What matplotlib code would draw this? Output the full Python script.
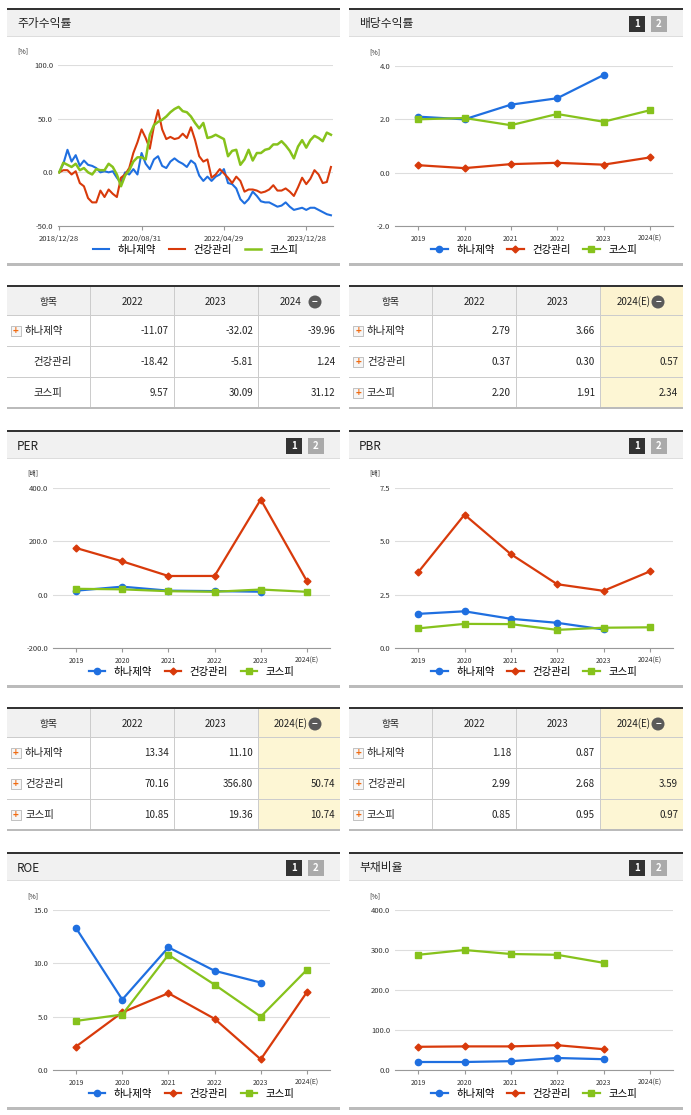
import matplotlib
matplotlib.use("Agg")
import matplotlib.pyplot as plt
from matplotlib.patches import Rectangle, Ellipse

plt.rcParams['font.family'] = ['Noto Sans CJK KR', 'DejaVu Sans']

W, H = 691, 1115
BLUE, RED, GREEN = '#1f6fe0', '#d83a0b', '#86c21c'
NAMES = ['하나제약', '건강관리', '코스피']
YEARS = ['2019', '2020', '2021', '2022', '2023', '2024(E)']

# stock return, monthly from 2018/12/28
ret_hana = [0, 8, 21, 10, 16, 6, 11, 7, 6, 4, 0, 1, 0, 1, -5, -10, 0, -2, 3, -2, 18,
            8, 3, 12, 15, 6, 4, 10, 13, 10, 8, 5, 11, 8, -3, -8, -4, -8, -4, -2, 3,
            -10, -11, -15, -25, -29, -25, -18, -22, -27, -28, -28, -30, -32, -31, -28,
            -32, -35, -34, -33, -35, -33, -33, -35, -37, -39, -40]
ret_health = [0, 2, 2, -2, 1, -10, -13, -24, -28, -28, -17, -23, -16, -20, -23, -5, -2,
              4, 18, 28, 40, 32, 22, 43, 58, 40, 31, 33, 31, 32, 36, 32, 42, 30, 15, 10,
              12, -5, -2, 3, -1, -5, -10, -4, -8, -18, -16, -16, -17, -19, -18, -16, -12,
              -17, -17, -15, -18, -22, -14, -5, -11, -6, 2, -2, -10, -9, 5]
ret_kospi = [0, 9, 7, 5, 8, 2, 4, 0, -2, 3, 2, 2, 8, 5, -2, -13, -3, 2, 10, 14, 14, 12,
             35, 44, 47, 49, 52, 56, 59, 61, 57, 56, 52, 46, 41, 46, 32, 33, 35, 33, 31,
             15, 20, 21, 7, 12, 21, 11, 18, 18, 21, 22, 26, 26, 29, 25, 20, 13, 24, 30,
             23, 30, 34, 32, 29, 37, 35]
ret_ticks = [0, 20, 40, 60]
ret_ticklabels = ['2018/12/28', '2020/08/31', '2022/04/29', '2023/12/28']

div_hana = [2.1, 2.0, 2.55, 2.79, 3.66, None]
div_health = [0.28, 0.17, 0.32, 0.37, 0.30, 0.57]
div_kospi = [2.0, 2.05, 1.78, 2.20, 1.91, 2.34]

per_hana = [15, 30, 15, 13.34, 11.10, None]
per_health = [175, 125, 70, 70.16, 356.80, 50.74]
per_kospi = [22, 20, 13, 10.85, 19.36, 10.74]

pbr_hana = [1.6, 1.72, 1.37, 1.18, 0.87, None]
pbr_health = [3.55, 6.25, 4.4, 2.99, 2.68, 3.59]
pbr_kospi = [0.92, 1.13, 1.12, 0.85, 0.95, 0.97]

roe_hana = [13.3, 6.6, 11.5, 9.3, 8.2, None]
roe_health = [2.2, 5.4, 7.2, 4.8, 1.0, 7.3]
roe_kospi = [4.6, 5.2, 10.8, 8.0, 5.0, 9.4]

debt_hana = [20, 20, 22, 30, 27, None]
debt_health = [58, 59, 59, 62, 52, None]
debt_kospi = [288, 300, 290, 288, 268, None]

tbl_ret = [['-11.07', '-32.02', '-39.96'], ['-18.42', '-5.81', '1.24'], ['9.57', '30.09', '31.12']]
tbl_div = [['2.79', '3.66', ''], ['0.37', '0.30', '0.57'], ['2.20', '1.91', '2.34']]
tbl_per = [['13.34', '11.10', ''], ['70.16', '356.80', '50.74'], ['10.85', '19.36', '10.74']]
tbl_pbr = [['1.18', '0.87', ''], ['2.99', '2.68', '3.59'], ['0.85', '0.95', '0.97']]

fig = plt.figure(figsize=(W / 100, H / 100), dpi=100)


def fx(x):
    return x / W


def fy(y):
    return 1 - y / H


def rect(x0, y0, x1, y1, **kw):
    fig.patches.append(Rectangle((fx(x0), fy(y1)), (x1 - x0) / W, (y1 - y0) / H,
                                 transform=fig.transFigure, **kw))


def txt(x, y, s, **kw):
    fig.text(fx(x), fy(y), s, **kw)


def panel(x0, x1, y0, y1, title, badges=True):
    rect(x0, y0, x1, y0 + 28, facecolor='#f1f1f1', edgecolor='none')
    rect(x0, y0, x1, y0 + 2, facecolor='#333333', edgecolor='none')
    rect(x0, y0 + 28, x1, y0 + 29, facecolor='#dddddd', edgecolor='none')
    rect(x0, y1 - 3, x1, y1, facecolor='#bbbbbb', edgecolor='none')
    txt(x0 + 10, y0 + 16, title, fontsize=8.5, va='center', color='#222222')
    if badges:
        rect(x1 - 54, y0 + 8, x1 - 38, y0 + 24, facecolor='#333333', edgecolor='none')
        txt(x1 - 46, y0 + 16, '1', fontsize=7, color='white', ha='center', va='center', weight='bold')
        rect(x1 - 32, y0 + 8, x1 - 16, y0 + 24, facecolor='#aaaaaa', edgecolor='none')
        txt(x1 - 24, y0 + 16, '2', fontsize=7, color='white', ha='center', va='center', weight='bold')


def make_ax(x0, x1, y0, y1):
    ax = fig.add_axes([fx(x0), fy(y1), (x1 - x0) / W, (y1 - y0) / H])
    for s in ['top', 'right', 'left']:
        ax.spines[s].set_visible(False)
    ax.spines['bottom'].set_color('#999999')
    ax.tick_params(axis='y', length=0, labelsize=5.5, colors='#333333')
    ax.tick_params(axis='x', labelsize=5.5, colors='#333333', length=3, color='#999999')
    ax.grid(axis='y', color='#dddddd', lw=0.8)
    ax.set_axisbelow(True)
    return ax


def legend(ax):
    ax.legend(loc='upper center', bbox_to_anchor=(0.5, -0.09), ncol=3, frameon=False,
              fontsize=7.5, handlelength=1.6, columnspacing=1.2, borderaxespad=0)


def year_chart(x0, x1, y0, y1, title, series, ylim, yticks, fmt, unit):
    panel(x0, x1, y0, y1, title)
    ax = make_ax(x0 + 46, x1 - 10, y0 + 58, y0 + 218)
    xs = range(len(YEARS))
    for vals, c, m, name in zip(series, [BLUE, RED, GREEN], ['o', 'D', 's'], NAMES):
        pts = [(i, v) for i, v in zip(xs, vals) if v is not None]
        ax.plot([p[0] for p in pts], [p[1] for p in pts], color=c, marker=m,
                ms=4.5 if m != 'D' else 3.5, lw=1.6, label=name)
    ax.set_xlim(-0.5, len(YEARS) - 0.5)
    ax.set_ylim(*ylim)
    ax.set_yticks(yticks)
    ax.set_yticklabels([fmt.format(t) for t in yticks])
    ax.set_xticks(list(xs))
    ax.set_xticklabels(YEARS, fontsize=5)
    txt(x0 + 20, y0 + 46, unit, fontsize=5, color='#333333')
    legend(ax)
    return ax


def table(x0, x1, y0, header, rows, yellow_last=False, plus_rows=(0,)):
    cols = [x0, x0 + 83, x0 + 167, x0 + 251, x1]
    rect(x0, y0, x1, y0 + 2, facecolor='#333333', edgecolor='none')
    rect(x0, y0 + 2, x1, y0 + 30, facecolor='#f1f1f1', edgecolor='none')
    if yellow_last:
        rect(cols[3], y0 + 2, x1, y0 + 30, facecolor='#fcf3d0', edgecolor='none')
        rect(cols[3], y0 + 30, x1, y0 + 123, facecolor='#fdf6d4', edgecolor='none')
    for c in cols[1:-1]:
        rect(c, y0 + 2, c + 1, y0 + 123, facecolor='#cccccc', edgecolor='none')
    for k in range(1, 4):
        yy = y0 + 30 + 31 * (k - 1)
        rect(x0, yy, x1, yy + 1, facecolor='#cccccc', edgecolor='none')
    rect(x0, y0 + 122, x1, y0 + 124, facecolor='#bbbbbb', edgecolor='none')
    hdr = ['항목'] + header
    for i, h in enumerate(hdr):
        cx = (cols[i] + cols[i + 1]) / 2
        if i == 3:
            cx -= 8
        txt(cx, y0 + 17, h, fontsize=7, ha='center', va='center', color='#222222')
    bx = cols[4] - 25
    fig.patches.append(Ellipse((fx(bx), fy(y0 + 17)), 13 / W, 13 / H, transform=fig.transFigure,
                               facecolor='#5a5a5a', edgecolor='none'))
    txt(bx, y0 + 16.5, '−', fontsize=7, ha='center', va='center', color='white', weight='bold')
    for r, (name, vals) in enumerate(zip(NAMES, rows)):
        cy = y0 + 46 + 31 * r
        if r in plus_rows:
            rect(x0 + 4, cy - 5, x0 + 14, cy + 5, facecolor='#f6f6f6', edgecolor='#aaaaaa', lw=0.5)
            txt(x0 + 9, cy, '+', fontsize=7, ha='center', va='center', color='#f06a10', weight='bold')
            txt(x0 + 18, cy, name, fontsize=7.5, va='center', color='#222222')
        else:
            txt(x0 + 26, cy, name, fontsize=7.5, va='center', color='#222222')
        for j, v in enumerate(vals):
            txt(cols[j + 2] - 5, cy, v, fontsize=7, ha='right', va='center', color='#222222')


# ---- 주가수익률
panel(7, 340, 8, 266, '주가수익률', badges=False)
ax = make_ax(58, 333, 65, 226)
months = range(len(ret_hana))
ax.plot(months, ret_hana, color=BLUE, lw=1.5, label=NAMES[0])
ax.plot(months, ret_health, color=RED, lw=1.5, label=NAMES[1])
ax.plot(months, ret_kospi, color=GREEN, lw=1.8, label=NAMES[2])
ax.set_xlim(-0.3, 66.5)
ax.set_ylim(-50, 100)
ax.set_yticks([-50, 0, 50, 100])
ax.set_yticklabels(['-50.0', '0.0', '50.0', '100.0'])
ax.set_xticks(ret_ticks)
ax.set_xticklabels(ret_ticklabels, fontsize=5.5)
txt(17, 53, '[%]', fontsize=5, color='#333333')
legend(ax)

year_chart(349, 683, 8, 266, '배당수익률', [div_hana, div_health, div_kospi],
           (-2, 4), [-2, 0, 2, 4], '{:.1f}', '[%]')
table(7, 340, 285, ['2022', '2023', '2024'], tbl_ret, plus_rows=(0,))
table(349, 683, 285, ['2022', '2023', '2024(E)'], tbl_div, yellow_last=True, plus_rows=(0, 1, 2))

year_chart(7, 340, 430, 688, 'PER', [per_hana, per_health, per_kospi],
           (-200, 400), [-200, 0, 200, 400], '{:.1f}', '[배]')
year_chart(349, 683, 430, 688, 'PBR', [pbr_hana, pbr_health, pbr_kospi],
           (0, 7.5), [0, 2.5, 5.0, 7.5], '{:.1f}', '[배]')
table(7, 340, 707, ['2022', '2023', '2024(E)'], tbl_per, yellow_last=True, plus_rows=(0, 1, 2))
table(349, 683, 707, ['2022', '2023', '2024(E)'], tbl_pbr, yellow_last=True, plus_rows=(0, 1, 2))

year_chart(7, 340, 852, 1110, 'ROE', [roe_hana, roe_health, roe_kospi],
           (0, 15), [0, 5, 10, 15], '{:.1f}', '[%]')
year_chart(349, 683, 852, 1110, '부채비율', [debt_hana, debt_health, debt_kospi],
           (0, 400), [0, 100, 200, 300, 400], '{:.1f}', '[%]')

fig.savefig('out.png', dpi=100)
